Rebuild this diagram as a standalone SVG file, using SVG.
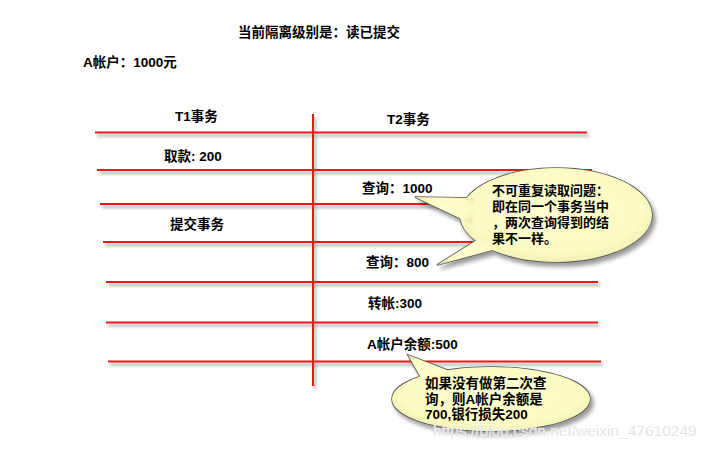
<svg xmlns="http://www.w3.org/2000/svg" width="715" height="449" viewBox="0 0 715 449">
<defs>
<filter id="sh" x="-10%" y="-50%" width="120%" height="200%">
<feGaussianBlur in="SourceAlpha" stdDeviation="1.5"/>
<feOffset dx="2" dy="3" result="b"/>
<feComponentTransfer><feFuncA type="linear" slope="0.35"/></feComponentTransfer>
<feMerge><feMergeNode/><feMergeNode in="SourceGraphic"/></feMerge>
</filter>
<filter id="bsh" x="-20%" y="-20%" width="140%" height="150%">
<feGaussianBlur in="SourceAlpha" stdDeviation="2"/>
<feOffset dx="3" dy="4"/>
<feComponentTransfer><feFuncA type="linear" slope="0.4"/></feComponentTransfer>
<feMerge><feMergeNode/><feMergeNode in="SourceGraphic"/></feMerge>
</filter>
<radialGradient id="g1" cx="0.5" cy="0.45" r="0.6">
<stop offset="0" stop-color="#ffffd2"/>
<stop offset="0.75" stop-color="#fbfbc4"/>
<stop offset="1" stop-color="#ecebac"/>
</radialGradient>
</defs>
<style>
.t{font-family:"Liberation Sans","Noto Sans CJK SC",sans-serif;font-size:13.5px;fill:#000;font-weight:bold}
.b{font-family:"Liberation Sans","Noto Sans CJK SC",sans-serif;font-size:13px;fill:#000;font-weight:bold}
.r{stroke:#f01818;stroke-width:2;fill:none}
.o{stroke:#555;stroke-width:1.6;fill:url(#g1)}
.f{stroke:none;fill:url(#g1)}
.wm{font-family:"Liberation Sans",sans-serif;font-size:15.5px;fill:#d4d4d4;stroke:#fff;stroke-width:0.4}
</style>
<g id="connectors" filter="url(#sh)">
<line class="r" x1="95" y1="132.5" x2="587" y2="132.5"/>
<line class="r" x1="97" y1="170" x2="592" y2="170"/>
<line class="r" x1="100" y1="204" x2="594" y2="204"/>
<line class="r" x1="103" y1="242" x2="596" y2="242"/>
<line class="r" x1="106" y1="282" x2="598" y2="282"/>
<line class="r" x1="106" y1="322.5" x2="598" y2="322.5"/>
<line class="r" x1="108" y1="361.5" x2="601" y2="361.5"/>
<line class="r" x1="313" y1="114" x2="313" y2="386"/>
</g>
<g id="title">
<text class="t" x="238" y="37">当前隔离级别是：读已提交</text>
<text class="t" x="83" y="67">A帐户：1000元</text>
</g>
<g id="headers">
<text class="t" x="175" y="121">T1事务</text>
<text class="t" x="387" y="124">T2事务</text>
</g>
<g id="t1-steps">
<text class="t" x="164" y="161">取款: 200</text>
<text class="t" x="170" y="229">提交事务</text>
</g>
<g id="t2-steps">
<text class="t" x="362" y="193">查询：1000</text>
<text class="t" x="366" y="267">查询：800</text>
<text class="t" x="368" y="308">转帐:300</text>
<text class="t" x="367" y="349">A帐户余额:500</text>
</g>
<g id="callout1">
<g filter="url(#bsh)">
<ellipse class="o" cx="556" cy="215" rx="96" ry="47"/>
<polygon class="o" points="415,197 474,198 472,224"/>
<polygon class="o" points="437,265 480,238 500,248"/>
<ellipse class="f" cx="556" cy="215" rx="96" ry="47"/>
<polygon class="f" points="415,197 474,198 472,224"/>
<polygon class="f" points="437,265 480,238 500,248"/>
</g>
<text class="b" x="492" y="195">不可重复读取问题：</text>
<text class="b" x="492" y="211">即在同一个事务当中</text>
<text class="b" x="492" y="227">，两次查询得到的结</text>
<text class="b" x="492" y="243">果不一样。</text>
</g>
<g id="callout2">
<g filter="url(#bsh)">
<ellipse class="o" cx="491" cy="399" rx="99" ry="32"/>
<polygon class="o" points="408,355 425,385 460,375"/>
<ellipse class="f" cx="491" cy="399" rx="99" ry="32"/>
<polygon class="f" points="408,355 425,385 460,375"/>
</g>
<text class="t" x="425" y="388">如果没有做第二次查</text>
<text class="t" x="425" y="404">询，则A帐户余额是</text>
<text class="t" x="425" y="419">700,银行损失200</text>
</g>
<g id="watermark">
<text class="wm" x="433" y="436">https://blog.csdn.net/weixin_47610249</text>
</g>
</svg>
